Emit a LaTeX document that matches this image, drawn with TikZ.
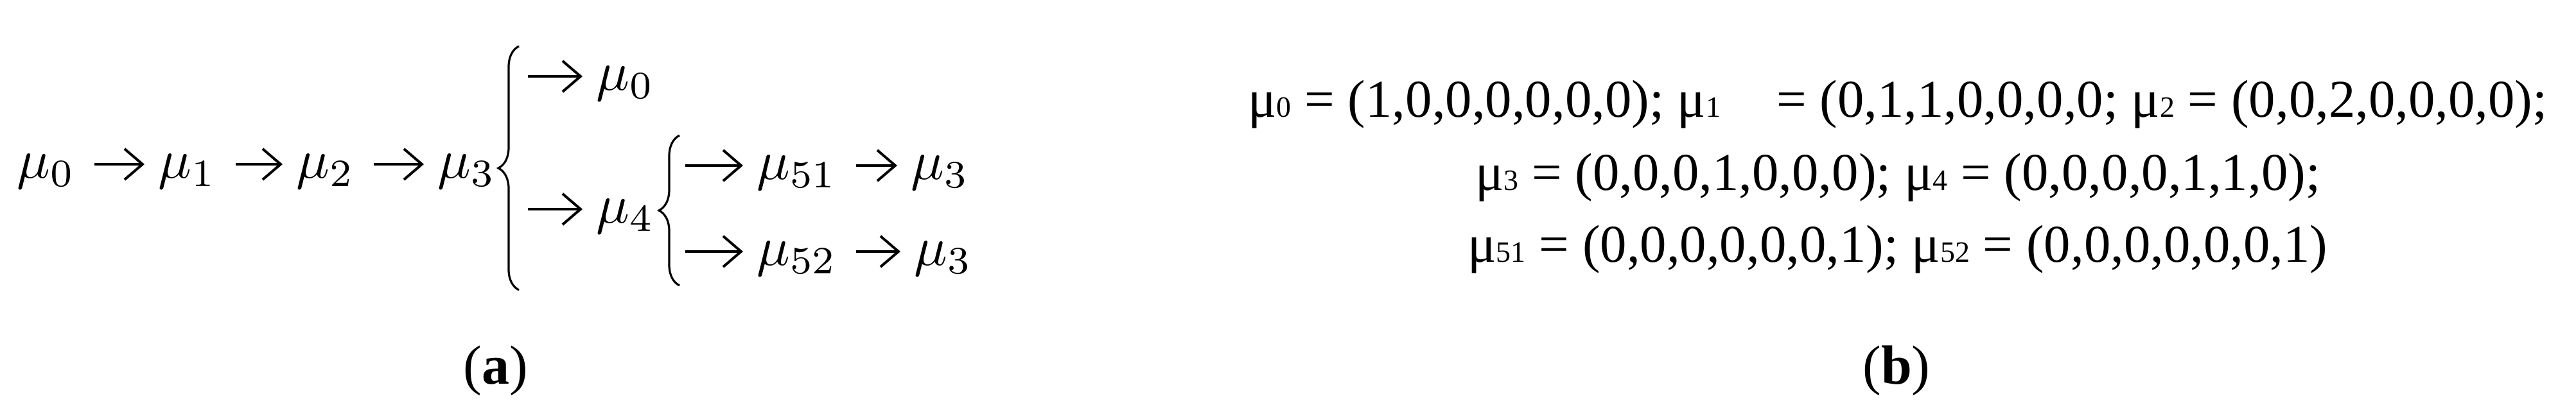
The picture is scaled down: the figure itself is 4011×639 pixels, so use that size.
\documentclass[tikz,border=0pt]{standalone}
\usepackage[no-math]{fontspec}
\setmainfont{Liberation Serif}
\usetikzlibrary{
    arrows.meta,
    decorations.pathreplacing,
    positioning
}
\newcommand{\mui}[1]{μ{\fontsize{11.5}{11.5}\selectfont #1}}
\tikzset{
    mnode/.style={anchor=base west, inner sep=0pt, scale=2.15, transform shape},
    trans/.style={-{Straight Barb[length=7pt,width=12pt]}, line width=1pt, shorten <=7pt, shorten >=5pt},
    branch/.style={-{Straight Barb[length=7pt,width=12pt]}, line width=1pt, shorten >=5pt},
    curly/.style={decorate, decoration={brace, amplitude=8pt}, line width=0.8pt},
    vecline/.style={anchor=base, inner sep=0pt, font=\fontsize{20.7}{25}\selectfont},
    caption/.style={anchor=base, inner sep=0pt, font=\fontsize{21.5}{26}\selectfont}
}

\begin{document}
\begin{tikzpicture}[x=0.25pt, y=-0.25pt]
    \useasboundingbox (0,0) rectangle (4011,639);

    % (a) main chain
    \node[mnode] (m0) at (25,278) {$\mu_0$};
    \node[mnode] (m1) at (245,278) {$\mu_1$};
    \node[mnode] (m2) at (460,278) {$\mu_2$};
    \node[mnode] (m3) at (680,278) {$\mu_3$};
    \draw[trans] ([yshift=5.5pt]m0.base east) -- ([yshift=5.5pt]m1.base west);
    \draw[trans] ([yshift=5.5pt]m1.base east) -- ([yshift=5.5pt]m2.base west);
    \draw[trans] ([yshift=5.5pt]m2.base east) -- ([yshift=5.5pt]m3.base west);

    % first brace
    \draw[curly] (808,452) -- (808,72);
    \coordinate (s0) at (822,119);
    \coordinate (s4) at (822,326);
    \node[mnode] (b0) at (927,141) {$\mu_0$};
    \node[mnode] (b4) at (927,348) {$\mu_4$};
    \draw[branch] (s0) -- ([yshift=5.5pt]b0.base west);
    \draw[branch] (s4) -- ([yshift=5.5pt]b4.base west);

    % second brace
    \draw[curly] (1058,445) -- (1058,211);
    \coordinate (s51) at (1067,258);
    \coordinate (s52) at (1067,392);
    \node[mnode] (c51) at (1177,280) {$\mu_{51}$};
    \node[mnode] (c52) at (1177,414) {$\mu_{52}$};
    \node[mnode] (d1) at (1417,280) {$\mu_3$};
    \node[mnode] (d2) at (1422,414) {$\mu_3$};
    \draw[branch] (s51) -- ([yshift=5.5pt]c51.base west);
    \draw[branch] (s52) -- ([yshift=5.5pt]c52.base west);
    \draw[trans] ([yshift=5.5pt]c51.base east) -- ([yshift=5.5pt]d1.base west);
    \draw[trans] ([yshift=5.5pt]c52.base east) -- ([yshift=5.5pt]d2.base west);

    % (b) markings
    \node[vecline] (v1) at (2955,183) {\mui{0} = (1,0,0,0,0,0,0); \mui{1}\hspace{0.8em} = (0,1,1,0,0,0,0; \mui{2} = (0,0,2,0,0,0,0);};
    \node[vecline] (v2) at (2955,297) {\mui{3} = (0,0,0,1,0,0,0); \mui{4} = (0,0,0,0,1,1,0);};
    \node[vecline] (v3) at (2955,409) {\mui{51} = (0,0,0,0,0,0,1); \mui{52} = (0,0,0,0,0,0,1)};

    % captions
    \node[caption] (la) at (772,599) {(\textbf{a})};
    \node[caption] (lb) at (2953,599) {(\textbf{b})};
\end{tikzpicture}
\end{document}
